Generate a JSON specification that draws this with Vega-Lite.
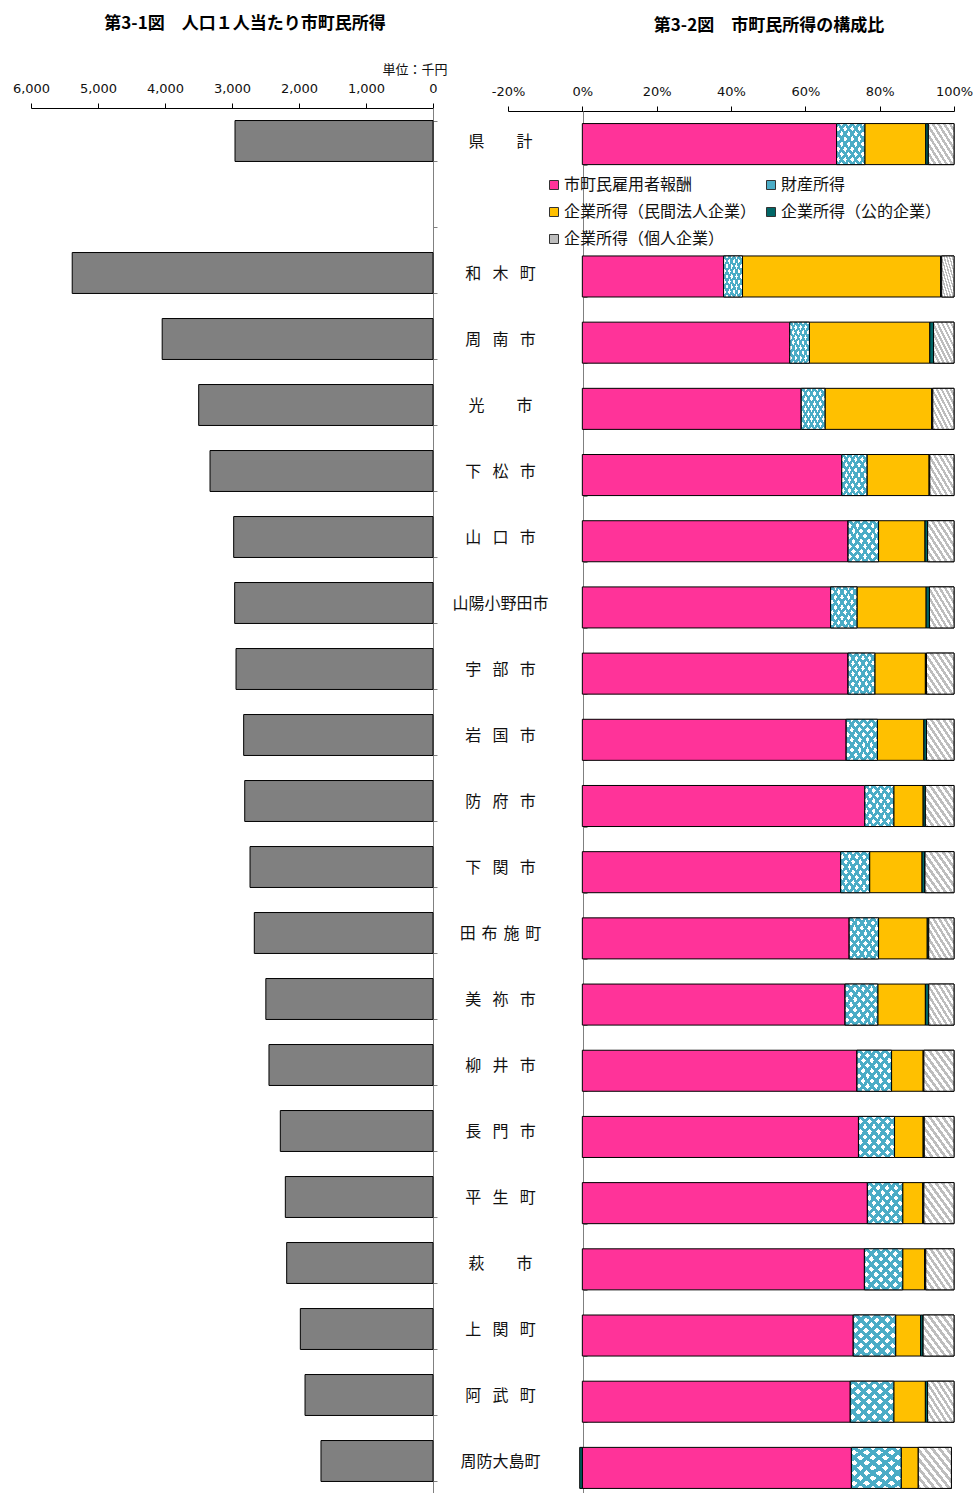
{
  "$schema": "https://vega.github.io/schema/vega-lite/v6.json",
  "padding": {"left": 12, "top": 15, "right": 0, "bottom": 0},
  "bounds": "flush",
  "spacing": 75,
  "config": {"view": {"stroke": null}, "font": "Noto Sans CJK JP"},
  "datasets": {
    "income": [
      {"name": "県\u3000\u3000計", "income": 2955},
      {"name": "和\u2002\u2009木\u2002\u2009町", "income": 5385},
      {"name": "周\u2002\u2009南\u2002\u2009市", "income": 4042},
      {"name": "光\u3000\u3000市", "income": 3497},
      {"name": "下\u2002\u2009松\u2002\u2009市", "income": 3328},
      {"name": "山\u2002\u2009口\u2002\u2009市", "income": 2975},
      {"name": "山陽小野田市", "income": 2960},
      {"name": "宇\u2002\u2009部\u2002\u2009市", "income": 2940},
      {"name": "岩\u2002\u2009国\u2002\u2009市", "income": 2826},
      {"name": "防\u2002\u2009府\u2002\u2009市", "income": 2810},
      {"name": "下\u2002\u2009関\u2002\u2009市", "income": 2731},
      {"name": "田\u2006\u2009布\u2006\u2009施\u2006\u2009町", "income": 2667},
      {"name": "美\u2002\u2009祢\u2002\u2009市", "income": 2495},
      {"name": "柳\u2002\u2009井\u2002\u2009市", "income": 2448},
      {"name": "長\u2002\u2009門\u2002\u2009市", "income": 2279},
      {"name": "平\u2002\u2009生\u2002\u2009町", "income": 2204},
      {"name": "萩\u3000\u3000市", "income": 2184},
      {"name": "上\u2002\u2009関\u2002\u2009町", "income": 1980},
      {"name": "阿\u2002\u2009武\u2002\u2009町", "income": 1910},
      {"name": "周防大島町", "income": 1672}
    ],
    "comp": [
      {"name": "県\u3000\u3000計", "component": "市町民雇用者報酬", "order": 1, "value": 68.4},
      {"name": "県\u3000\u3000計", "component": "財産所得", "order": 2, "value": 7.6},
      {"name": "県\u3000\u3000計", "component": "企業所得（民間法人企業）", "order": 3, "value": 16.4},
      {"name": "県\u3000\u3000計", "component": "企業所得（公的企業）", "order": 4, "value": 0.7},
      {"name": "県\u3000\u3000計", "component": "企業所得（個人企業）", "order": 5, "value": 6.9},
      {"name": "和\u2002\u2009木\u2002\u2009町", "component": "市町民雇用者報酬", "order": 1, "value": 38.0},
      {"name": "和\u2002\u2009木\u2002\u2009町", "component": "財産所得", "order": 2, "value": 5.1},
      {"name": "和\u2002\u2009木\u2002\u2009町", "component": "企業所得（民間法人企業）", "order": 3, "value": 53.3},
      {"name": "和\u2002\u2009木\u2002\u2009町", "component": "企業所得（公的企業）", "order": 4, "value": 0.3},
      {"name": "和\u2002\u2009木\u2002\u2009町", "component": "企業所得（個人企業）", "order": 5, "value": 3.3},
      {"name": "周\u2002\u2009南\u2002\u2009市", "component": "市町民雇用者報酬", "order": 1, "value": 55.8},
      {"name": "周\u2002\u2009南\u2002\u2009市", "component": "財産所得", "order": 2, "value": 5.3},
      {"name": "周\u2002\u2009南\u2002\u2009市", "component": "企業所得（民間法人企業）", "order": 3, "value": 32.4},
      {"name": "周\u2002\u2009南\u2002\u2009市", "component": "企業所得（公的企業）", "order": 4, "value": 1.0},
      {"name": "周\u2002\u2009南\u2002\u2009市", "component": "企業所得（個人企業）", "order": 5, "value": 5.5},
      {"name": "光\u3000\u3000市", "component": "市町民雇用者報酬", "order": 1, "value": 58.9},
      {"name": "光\u3000\u3000市", "component": "財産所得", "order": 2, "value": 6.4},
      {"name": "光\u3000\u3000市", "component": "企業所得（民間法人企業）", "order": 3, "value": 28.7},
      {"name": "光\u3000\u3000市", "component": "企業所得（公的企業）", "order": 4, "value": 0.3},
      {"name": "光\u3000\u3000市", "component": "企業所得（個人企業）", "order": 5, "value": 5.7},
      {"name": "下\u2002\u2009松\u2002\u2009市", "component": "市町民雇用者報酬", "order": 1, "value": 69.8},
      {"name": "下\u2002\u2009松\u2002\u2009市", "component": "財産所得", "order": 2, "value": 6.8},
      {"name": "下\u2002\u2009松\u2002\u2009市", "component": "企業所得（民間法人企業）", "order": 3, "value": 16.7},
      {"name": "下\u2002\u2009松\u2002\u2009市", "component": "企業所得（公的企業）", "order": 4, "value": 0.2},
      {"name": "下\u2002\u2009松\u2002\u2009市", "component": "企業所得（個人企業）", "order": 5, "value": 6.5},
      {"name": "山\u2002\u2009口\u2002\u2009市", "component": "市町民雇用者報酬", "order": 1, "value": 71.5},
      {"name": "山\u2002\u2009口\u2002\u2009市", "component": "財産所得", "order": 2, "value": 8.2},
      {"name": "山\u2002\u2009口\u2002\u2009市", "component": "企業所得（民間法人企業）", "order": 3, "value": 12.5},
      {"name": "山\u2002\u2009口\u2002\u2009市", "component": "企業所得（公的企業）", "order": 4, "value": 0.7},
      {"name": "山\u2002\u2009口\u2002\u2009市", "component": "企業所得（個人企業）", "order": 5, "value": 7.1},
      {"name": "山陽小野田市", "component": "市町民雇用者報酬", "order": 1, "value": 66.8},
      {"name": "山陽小野田市", "component": "財産所得", "order": 2, "value": 7.1},
      {"name": "山陽小野田市", "component": "企業所得（民間法人企業）", "order": 3, "value": 18.6},
      {"name": "山陽小野田市", "component": "企業所得（公的企業）", "order": 4, "value": 0.9},
      {"name": "山陽小野田市", "component": "企業所得（個人企業）", "order": 5, "value": 6.6},
      {"name": "宇\u2002\u2009部\u2002\u2009市", "component": "市町民雇用者報酬", "order": 1, "value": 71.5},
      {"name": "宇\u2002\u2009部\u2002\u2009市", "component": "財産所得", "order": 2, "value": 7.2},
      {"name": "宇\u2002\u2009部\u2002\u2009市", "component": "企業所得（民間法人企業）", "order": 3, "value": 13.6},
      {"name": "宇\u2002\u2009部\u2002\u2009市", "component": "企業所得（公的企業）", "order": 4, "value": 0.3},
      {"name": "宇\u2002\u2009部\u2002\u2009市", "component": "企業所得（個人企業）", "order": 5, "value": 7.4},
      {"name": "岩\u2002\u2009国\u2002\u2009市", "component": "市町民雇用者報酬", "order": 1, "value": 71.0},
      {"name": "岩\u2002\u2009国\u2002\u2009市", "component": "財産所得", "order": 2, "value": 8.4},
      {"name": "岩\u2002\u2009国\u2002\u2009市", "component": "企業所得（民間法人企業）", "order": 3, "value": 12.5},
      {"name": "岩\u2002\u2009国\u2002\u2009市", "component": "企業所得（公的企業）", "order": 4, "value": 0.7},
      {"name": "岩\u2002\u2009国\u2002\u2009市", "component": "企業所得（個人企業）", "order": 5, "value": 7.4},
      {"name": "防\u2002\u2009府\u2002\u2009市", "component": "市町民雇用者報酬", "order": 1, "value": 76.0},
      {"name": "防\u2002\u2009府\u2002\u2009市", "component": "財産所得", "order": 2, "value": 7.8},
      {"name": "防\u2002\u2009府\u2002\u2009市", "component": "企業所得（民間法人企業）", "order": 3, "value": 7.9},
      {"name": "防\u2002\u2009府\u2002\u2009市", "component": "企業所得（公的企業）", "order": 4, "value": 0.6},
      {"name": "防\u2002\u2009府\u2002\u2009市", "component": "企業所得（個人企業）", "order": 5, "value": 7.7},
      {"name": "下\u2002\u2009関\u2002\u2009市", "component": "市町民雇用者報酬", "order": 1, "value": 69.5},
      {"name": "下\u2002\u2009関\u2002\u2009市", "component": "財産所得", "order": 2, "value": 7.8},
      {"name": "下\u2002\u2009関\u2002\u2009市", "component": "企業所得（民間法人企業）", "order": 3, "value": 14.1},
      {"name": "下\u2002\u2009関\u2002\u2009市", "component": "企業所得（公的企業）", "order": 4, "value": 0.8},
      {"name": "下\u2002\u2009関\u2002\u2009市", "component": "企業所得（個人企業）", "order": 5, "value": 7.8},
      {"name": "田\u2006\u2009布\u2006\u2009施\u2006\u2009町", "component": "市町民雇用者報酬", "order": 1, "value": 71.8},
      {"name": "田\u2006\u2009布\u2006\u2009施\u2006\u2009町", "component": "財産所得", "order": 2, "value": 7.9},
      {"name": "田\u2006\u2009布\u2006\u2009施\u2006\u2009町", "component": "企業所得（民間法人企業）", "order": 3, "value": 13.1},
      {"name": "田\u2006\u2009布\u2006\u2009施\u2006\u2009町", "component": "企業所得（公的企業）", "order": 4, "value": 0.4},
      {"name": "田\u2006\u2009布\u2006\u2009施\u2006\u2009町", "component": "企業所得（個人企業）", "order": 5, "value": 6.8},
      {"name": "美\u2002\u2009祢\u2002\u2009市", "component": "市町民雇用者報酬", "order": 1, "value": 70.7},
      {"name": "美\u2002\u2009祢\u2002\u2009市", "component": "財産所得", "order": 2, "value": 8.8},
      {"name": "美\u2002\u2009祢\u2002\u2009市", "component": "企業所得（民間法人企業）", "order": 3, "value": 12.8},
      {"name": "美\u2002\u2009祢\u2002\u2009市", "component": "企業所得（公的企業）", "order": 4, "value": 0.9},
      {"name": "美\u2002\u2009祢\u2002\u2009市", "component": "企業所得（個人企業）", "order": 5, "value": 6.8},
      {"name": "柳\u2002\u2009井\u2002\u2009市", "component": "市町民雇用者報酬", "order": 1, "value": 73.9},
      {"name": "柳\u2002\u2009井\u2002\u2009市", "component": "財産所得", "order": 2, "value": 9.3},
      {"name": "柳\u2002\u2009井\u2002\u2009市", "component": "企業所得（民間法人企業）", "order": 3, "value": 8.5},
      {"name": "柳\u2002\u2009井\u2002\u2009市", "component": "企業所得（公的企業）", "order": 4, "value": 0.2},
      {"name": "柳\u2002\u2009井\u2002\u2009市", "component": "企業所得（個人企業）", "order": 5, "value": 8.1},
      {"name": "長\u2002\u2009門\u2002\u2009市", "component": "市町民雇用者報酬", "order": 1, "value": 74.3},
      {"name": "長\u2002\u2009門\u2002\u2009市", "component": "財産所得", "order": 2, "value": 9.7},
      {"name": "長\u2002\u2009門\u2002\u2009市", "component": "企業所得（民間法人企業）", "order": 3, "value": 7.7},
      {"name": "長\u2002\u2009門\u2002\u2009市", "component": "企業所得（公的企業）", "order": 4, "value": 0.3},
      {"name": "長\u2002\u2009門\u2002\u2009市", "component": "企業所得（個人企業）", "order": 5, "value": 8.0},
      {"name": "平\u2002\u2009生\u2002\u2009町", "component": "市町民雇用者報酬", "order": 1, "value": 76.7},
      {"name": "平\u2002\u2009生\u2002\u2009町", "component": "財産所得", "order": 2, "value": 9.5},
      {"name": "平\u2002\u2009生\u2002\u2009町", "component": "企業所得（民間法人企業）", "order": 3, "value": 5.4},
      {"name": "平\u2002\u2009生\u2002\u2009町", "component": "企業所得（公的企業）", "order": 4, "value": 0.3},
      {"name": "平\u2002\u2009生\u2002\u2009町", "component": "企業所得（個人企業）", "order": 5, "value": 8.1},
      {"name": "萩\u3000\u3000市", "component": "市町民雇用者報酬", "order": 1, "value": 75.9},
      {"name": "萩\u3000\u3000市", "component": "財産所得", "order": 2, "value": 10.3},
      {"name": "萩\u3000\u3000市", "component": "企業所得（民間法人企業）", "order": 3, "value": 5.9},
      {"name": "萩\u3000\u3000市", "component": "企業所得（公的企業）", "order": 4, "value": 0.3},
      {"name": "萩\u3000\u3000市", "component": "企業所得（個人企業）", "order": 5, "value": 7.6},
      {"name": "上\u2002\u2009関\u2002\u2009町", "component": "市町民雇用者報酬", "order": 1, "value": 72.9},
      {"name": "上\u2002\u2009関\u2002\u2009町", "component": "財産所得", "order": 2, "value": 11.4},
      {"name": "上\u2002\u2009関\u2002\u2009町", "component": "企業所得（民間法人企業）", "order": 3, "value": 6.7},
      {"name": "上\u2002\u2009関\u2002\u2009町", "component": "企業所得（公的企業）", "order": 4, "value": 0.7},
      {"name": "上\u2002\u2009関\u2002\u2009町", "component": "企業所得（個人企業）", "order": 5, "value": 8.3},
      {"name": "阿\u2002\u2009武\u2002\u2009町", "component": "市町民雇用者報酬", "order": 1, "value": 72.1},
      {"name": "阿\u2002\u2009武\u2002\u2009町", "component": "財産所得", "order": 2, "value": 11.7},
      {"name": "阿\u2002\u2009武\u2002\u2009町", "component": "企業所得（民間法人企業）", "order": 3, "value": 8.5},
      {"name": "阿\u2002\u2009武\u2002\u2009町", "component": "企業所得（公的企業）", "order": 4, "value": 0.6},
      {"name": "阿\u2002\u2009武\u2002\u2009町", "component": "企業所得（個人企業）", "order": 5, "value": 7.1},
      {"name": "周防大島町", "component": "市町民雇用者報酬", "order": 1, "value": 72.4},
      {"name": "周防大島町", "component": "財産所得", "order": 2, "value": 13.4},
      {"name": "周防大島町", "component": "企業所得（民間法人企業）", "order": 3, "value": 4.6},
      {"name": "周防大島町", "component": "企業所得（公的企業）", "order": 4, "value": -0.7},
      {"name": "周防大島町", "component": "企業所得（個人企業）", "order": 5, "value": 8.9}
    ]
  },
  "hconcat": [
    {
      "width": 402,
      "height": 1386,
      "title": {"text": "第3-1図　人口１人当たり市町民所得", "font": "Noto Sans CJK JP", "fontSize": 17, "fontWeight": "bold", "color": "#000000", "anchor": "middle", "frame": "group", "dx": 13, "offset": 30},
      "data": {"name": "income"},
      "mark": {"type": "bar", "fill": "#808080", "stroke": "#000000", "strokeWidth": 1},
      "encoding": {
        "y": {
          "field": "name", "type": "nominal",
          "scale": {"domain": ["県\u3000\u3000計", " ", "和\u2002\u2009木\u2002\u2009町", "周\u2002\u2009南\u2002\u2009市", "光\u3000\u3000市", "下\u2002\u2009松\u2002\u2009市", "山\u2002\u2009口\u2002\u2009市", "山陽小野田市", "宇\u2002\u2009部\u2002\u2009市", "岩\u2002\u2009国\u2002\u2009市", "防\u2002\u2009府\u2002\u2009市", "下\u2002\u2009関\u2002\u2009市", "田\u2006\u2009布\u2006\u2009施\u2006\u2009町", "美\u2002\u2009祢\u2002\u2009市", "柳\u2002\u2009井\u2002\u2009市", "長\u2002\u2009門\u2002\u2009市", "平\u2002\u2009生\u2002\u2009町", "萩\u3000\u3000市", "上\u2002\u2009関\u2002\u2009町", "阿\u2002\u2009武\u2002\u2009町", "周防大島町"], "paddingInner": 0.38, "paddingOuter": 0.19},
          "axis": {"orient": "right", "title": null, "tickBand": "extent", "tickSize": 4, "tickColor": "#808080", "domainColor": "#808080", "labelPadding": 63, "labelAlign": "center", "labelFont": "Noto Sans CJK JP", "labelFontSize": 16, "labelColor": "#111111", "labelLimit": 0}
        },
        "x": {
          "field": "income", "type": "quantitative",
          "scale": {"domain": [0, 6000], "reverse": true, "nice": false},
          "axis": {"orient": "top", "values": [0, 1000, 2000, 3000, 4000, 5000, 6000], "format": ",d", "labelFlush": false, "grid": false, "tickSize": 5, "tickColor": "#000000", "domainColor": "#000000", "labelPadding": 8, "labelFont": "DejaVu Sans", "labelFontSize": 13, "labelColor": "#111111", "title": "単位：千円", "titleX": 416, "titleY": -39, "titleAlign": "right", "titleBaseline": "middle", "titleFont": "Noto Sans CJK JP", "titleFontSize": 13, "titleFontWeight": "normal", "titleColor": "#111111"}
        }
      }
    },
    {
      "width": 446,
      "height": 1390,
      "title": {"text": "第3-2図　市町民所得の構成比", "font": "Noto Sans CJK JP", "fontSize": 17, "fontWeight": "bold", "color": "#000000", "anchor": "middle", "frame": "group", "dx": 38, "offset": 50},
      "data": {"name": "comp"},
      "transform": [
        {"stack": "value", "groupby": ["name"], "sort": [{"field": "order", "order": "ascending"}], "as": ["x0", "x1"], "offset": "zero"}
      ],
      "encoding": {
        "y": {
          "field": "name", "type": "nominal",
          "scale": {"domain": ["県\u3000\u3000計", " ", "和\u2002\u2009木\u2002\u2009町", "周\u2002\u2009南\u2002\u2009市", "光\u3000\u3000市", "下\u2002\u2009松\u2002\u2009市", "山\u2002\u2009口\u2002\u2009市", "山陽小野田市", "宇\u2002\u2009部\u2002\u2009市", "岩\u2002\u2009国\u2002\u2009市", "防\u2002\u2009府\u2002\u2009市", "下\u2002\u2009関\u2002\u2009市", "田\u2006\u2009布\u2006\u2009施\u2006\u2009町", "美\u2002\u2009祢\u2002\u2009市", "柳\u2002\u2009井\u2002\u2009市", "長\u2002\u2009門\u2002\u2009市", "平\u2002\u2009生\u2002\u2009町", "萩\u3000\u3000市", "上\u2002\u2009関\u2002\u2009町", "阿\u2002\u2009武\u2002\u2009町", "周防大島町"], "range": [3, 1393], "paddingInner": 0.38, "paddingOuter": 0.19},
          "axis": {"orient": "right", "offset": -371, "title": null, "labels": false, "tickBand": "extent", "tickSize": 4, "tickColor": "#808080", "domainColor": "#808080"}
        },
        "x": {
          "field": "x0", "type": "quantitative",
          "scale": {"domain": [-20, 100], "nice": false},
          "axis": {"orient": "top", "offset": -3, "values": [-20, 0, 20, 40, 60, 80, 100], "labelExpr": "datum.value + '%'", "labelFlush": false, "grid": false, "tickSize": 5, "tickColor": "#000000", "domainColor": "#000000", "labelPadding": 8, "labelFont": "DejaVu Sans", "labelFontSize": 13, "labelColor": "#111111", "title": null}
        },
        "x2": {"field": "x1"}
      },
      "layer": [
        {
          "mark": {"type": "bar", "stroke": "#000000", "strokeWidth": 1},
          "encoding": {
            "color": {
              "field": "component", "type": "nominal",
              "scale": {"domain": ["市町民雇用者報酬", "財産所得", "企業所得（民間法人企業）", "企業所得（公的企業）", "企業所得（個人企業）"], "range": ["#FF3399", "#4BACC6", "#FFC000", "#006666", "#BDBDBD"]},
              "legend": {"orient": "none", "legendX": 515, "legendY": 69, "direction": "horizontal", "columns": 2, "title": null, "symbolType": "square", "symbolSize": 81, "symbolStrokeColor": "#333333", "symbolStrokeWidth": 1, "symbolOpacity": 1, "labelFont": "Noto Sans CJK JP", "labelFontSize": 16, "labelColor": "#111111", "labelOffset": 2, "labelLimit": 0, "columnPadding": 6, "rowPadding": 11}
            }
          }
        },
        {
          "transform": [{"filter": "datum.order == 2"}],
          "mark": {"type": "bar", "fill": {"gradient": "linear", "x1": 0, "y1": 1, "x2": 1, "y2": 0, "stops": [
            {"offset": 0, "color": "#4BACC6"}, {"offset": 0.056, "color": "#4BACC6"}, {"offset": 0.056, "color": "#FFFFFF"}, {"offset": 0.125, "color": "#FFFFFF"},
            {"offset": 0.125, "color": "#4BACC6"}, {"offset": 0.181, "color": "#4BACC6"}, {"offset": 0.181, "color": "#FFFFFF"}, {"offset": 0.25, "color": "#FFFFFF"},
            {"offset": 0.25, "color": "#4BACC6"}, {"offset": 0.306, "color": "#4BACC6"}, {"offset": 0.306, "color": "#FFFFFF"}, {"offset": 0.375, "color": "#FFFFFF"},
            {"offset": 0.375, "color": "#4BACC6"}, {"offset": 0.431, "color": "#4BACC6"}, {"offset": 0.431, "color": "#FFFFFF"}, {"offset": 0.5, "color": "#FFFFFF"},
            {"offset": 0.5, "color": "#4BACC6"}, {"offset": 0.556, "color": "#4BACC6"}, {"offset": 0.556, "color": "#FFFFFF"}, {"offset": 0.625, "color": "#FFFFFF"},
            {"offset": 0.625, "color": "#4BACC6"}, {"offset": 0.681, "color": "#4BACC6"}, {"offset": 0.681, "color": "#FFFFFF"}, {"offset": 0.75, "color": "#FFFFFF"},
            {"offset": 0.75, "color": "#4BACC6"}, {"offset": 0.806, "color": "#4BACC6"}, {"offset": 0.806, "color": "#FFFFFF"}, {"offset": 0.875, "color": "#FFFFFF"},
            {"offset": 0.875, "color": "#4BACC6"}, {"offset": 0.931, "color": "#4BACC6"}, {"offset": 0.931, "color": "#FFFFFF"}, {"offset": 1, "color": "#FFFFFF"}
          ]}}
        },
        {
          "transform": [{"filter": "datum.order == 2"}],
          "mark": {"type": "bar", "stroke": "#000000", "strokeWidth": 1, "fill": {"gradient": "linear", "x1": 0, "y1": 0, "x2": 1, "y2": 1, "stops": [
            {"offset": 0, "color": "#4BACC6"}, {"offset": 0.056, "color": "#4BACC6"}, {"offset": 0.056, "color": "rgba(75,172,198,0)"}, {"offset": 0.125, "color": "rgba(75,172,198,0)"},
            {"offset": 0.125, "color": "#4BACC6"}, {"offset": 0.181, "color": "#4BACC6"}, {"offset": 0.181, "color": "rgba(75,172,198,0)"}, {"offset": 0.25, "color": "rgba(75,172,198,0)"},
            {"offset": 0.25, "color": "#4BACC6"}, {"offset": 0.306, "color": "#4BACC6"}, {"offset": 0.306, "color": "rgba(75,172,198,0)"}, {"offset": 0.375, "color": "rgba(75,172,198,0)"},
            {"offset": 0.375, "color": "#4BACC6"}, {"offset": 0.431, "color": "#4BACC6"}, {"offset": 0.431, "color": "rgba(75,172,198,0)"}, {"offset": 0.5, "color": "rgba(75,172,198,0)"},
            {"offset": 0.5, "color": "#4BACC6"}, {"offset": 0.556, "color": "#4BACC6"}, {"offset": 0.556, "color": "rgba(75,172,198,0)"}, {"offset": 0.625, "color": "rgba(75,172,198,0)"},
            {"offset": 0.625, "color": "#4BACC6"}, {"offset": 0.681, "color": "#4BACC6"}, {"offset": 0.681, "color": "rgba(75,172,198,0)"}, {"offset": 0.75, "color": "rgba(75,172,198,0)"},
            {"offset": 0.75, "color": "#4BACC6"}, {"offset": 0.806, "color": "#4BACC6"}, {"offset": 0.806, "color": "rgba(75,172,198,0)"}, {"offset": 0.875, "color": "rgba(75,172,198,0)"},
            {"offset": 0.875, "color": "#4BACC6"}, {"offset": 0.931, "color": "#4BACC6"}, {"offset": 0.931, "color": "rgba(75,172,198,0)"}, {"offset": 1, "color": "rgba(75,172,198,0)"}
          ]}}
        },
        {
          "transform": [{"filter": "datum.order == 5"}],
          "mark": {"type": "bar", "stroke": "#000000", "strokeWidth": 1, "fill": {"gradient": "linear", "x1": 0, "y1": 1, "x2": 1, "y2": 0, "stops": [
            {"offset": 0, "color": "#BDBDBD"}, {"offset": 0.0556, "color": "#BDBDBD"}, {"offset": 0.0556, "color": "#FFFFFF"}, {"offset": 0.1111, "color": "#FFFFFF"},
            {"offset": 0.1111, "color": "#BDBDBD"}, {"offset": 0.1667, "color": "#BDBDBD"}, {"offset": 0.1667, "color": "#FFFFFF"}, {"offset": 0.2222, "color": "#FFFFFF"},
            {"offset": 0.2222, "color": "#BDBDBD"}, {"offset": 0.2778, "color": "#BDBDBD"}, {"offset": 0.2778, "color": "#FFFFFF"}, {"offset": 0.3333, "color": "#FFFFFF"},
            {"offset": 0.3333, "color": "#BDBDBD"}, {"offset": 0.3889, "color": "#BDBDBD"}, {"offset": 0.3889, "color": "#FFFFFF"}, {"offset": 0.4444, "color": "#FFFFFF"},
            {"offset": 0.4444, "color": "#BDBDBD"}, {"offset": 0.5, "color": "#BDBDBD"}, {"offset": 0.5, "color": "#FFFFFF"}, {"offset": 0.5556, "color": "#FFFFFF"},
            {"offset": 0.5556, "color": "#BDBDBD"}, {"offset": 0.6111, "color": "#BDBDBD"}, {"offset": 0.6111, "color": "#FFFFFF"}, {"offset": 0.6667, "color": "#FFFFFF"},
            {"offset": 0.6667, "color": "#BDBDBD"}, {"offset": 0.7222, "color": "#BDBDBD"}, {"offset": 0.7222, "color": "#FFFFFF"}, {"offset": 0.7778, "color": "#FFFFFF"},
            {"offset": 0.7778, "color": "#BDBDBD"}, {"offset": 0.8333, "color": "#BDBDBD"}, {"offset": 0.8333, "color": "#FFFFFF"}, {"offset": 0.8889, "color": "#FFFFFF"},
            {"offset": 0.8889, "color": "#BDBDBD"}, {"offset": 0.9444, "color": "#BDBDBD"}, {"offset": 0.9444, "color": "#FFFFFF"}, {"offset": 1, "color": "#FFFFFF"}
          ]}}
        }
      ]
    }
  ]
}
